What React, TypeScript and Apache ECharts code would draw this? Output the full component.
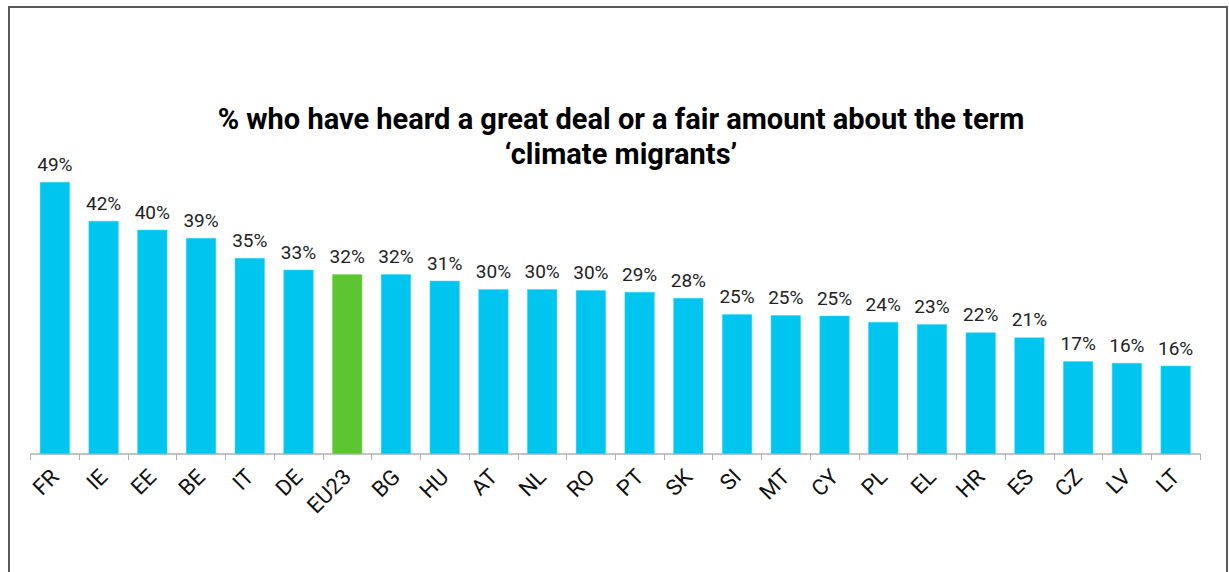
import React, { useEffect, useRef } from "react";
import * as echarts from "echarts";

const categories = ["FR","IE","EE","BE","IT","DE","EU23","BG","HU","AT","NL","RO","PT","SK","SI","MT","CY","PL","EL","HR","ES","CZ","LV","LT"];
const values = [49.0,42.0,40.4,38.9,35.3,33.2,32.4,32.4,31.2,29.7,29.7,29.5,29.2,28.1,25.2,25.0,24.9,23.8,23.4,21.9,21.0,16.7,16.4,15.9];
const highlight = "EU23";
const titleText = "% who have heard a great deal or a fair amount about the term\n‘climate migrants’";

export default function App() {
  const ref = useRef<HTMLDivElement>(null);
  useEffect(() => {
    document.body.style.margin = "0";
    const chart = echarts.init(ref.current!, undefined, { renderer: "svg" });
    chart.setOption({
      animation: false,
      backgroundColor: "#ffffff",
      graphic: [
        {
          type: "rect",
          shape: { x: 9, y: 7, width: 1218, height: 580 },
          style: { fill: "none", stroke: "#5a5a5a", lineWidth: 2 },
          silent: true,
        },
        {
          type: "text",
          x: 621,
          y: 101,
          silent: true,
          style: {
            text: titleText,
            fontFamily: "Roboto",
            fontSize: 29,
            fontWeight: "bold",
            fill: "#000",
            lineHeight: 35,
            align: "center",
            verticalAlign: "top",
          },
        },
      ],
      grid: { left: 30.5, right: 29, top: 176.5, bottom: 118, containLabel: false },
      xAxis: {
        type: "category",
        data: categories,
        axisLine: { lineStyle: { color: "#b0b0b0", width: 1.5 } },
        axisTick: { show: true, length: 6, lineStyle: { color: "#b0b0b0" } },
        axisLabel: { rotate: 45, fontFamily: "Roboto", fontSize: 22, color: "#111", margin: 19, interval: 0 },
      },
      yAxis: { type: "value", min: 0, max: 50, show: false, splitLine: { show: false } },
      series: [
        {
          type: "bar",
          barWidth: 30,
          data: values.map((v, i) => ({
            value: v,
            itemStyle: { color: categories[i] === highlight ? "#5DC432" : "#00C5EE", borderColor: categories[i] === highlight ? "#7dd45a" : "#40d4f3", borderWidth: 0.5 },
          })),
          label: {
            show: true,
            position: "top",
            distance: 8,
            fontFamily: "Roboto",
            fontSize: 19,
            color: "#222",
            formatter: (p: any) => Math.round(p.value) + "%",
          },
        },
      ],
    });
    return () => chart.dispose();
  }, []);
  return <div ref={ref} style={{ width: 1229, height: 572 }} />;
}
